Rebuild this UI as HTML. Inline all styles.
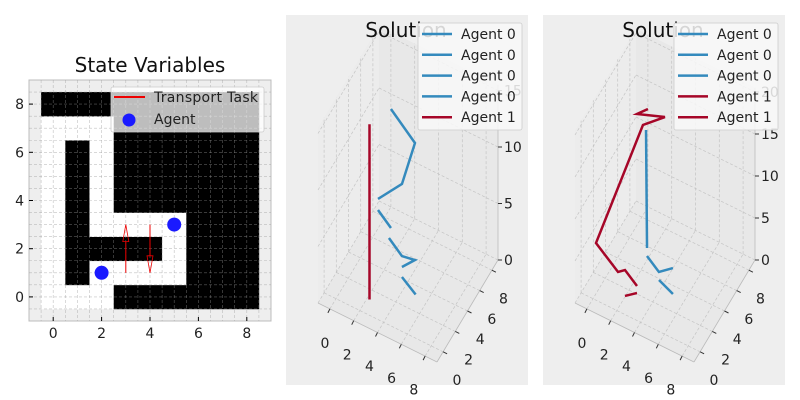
<!DOCTYPE html>
<html><head><meta charset="utf-8"><style>
body{margin:0;background:#fff;}
svg{display:block;font-family:"DejaVu Sans","Liberation Sans",sans-serif;}
</style></head><body>
<svg id="fig" width="800" height="400" viewBox="0 0 800 400">
<rect x="0" y="0" width="800" height="400" fill="#ffffff"/>
<g id="left"></g>
<g id="p2"></g>
<g id="p3"></g>
</svg>
<script>
// ---------- data ----------
const gridRows = [ // row 0 .. row 8, col 0..8 ; 1 = wall (black)
 [0,0,0,1,1,1,1,1,1],
 [0,1,0,0,0,0,1,1,1],
 [0,1,1,1,1,0,1,1,1],
 [0,1,0,0,0,0,1,1,1],
 [0,1,0,1,1,1,1,1,1],
 [0,1,0,1,1,1,1,1,1],
 [0,1,0,1,1,1,1,1,1],
 [0,0,0,1,1,1,1,1,1],
 [1,1,1,1,1,1,1,1,1]
];
const agentX = [2,5];
const agentY = [1,3];
const taskX0 = [3,4];
const taskY0 = [1,3];
const taskX1 = [3,4];
const taskY1 = [3,1];
const mapTicks = [0,2,4,6,8];

// panel 2 series: [x,y,t]
const p2Series0a = [[5,3.3,0],[3.87,3.26,1]];
const p2Series0b = [[3.92,3.16,2],[4.93,3.32,3],[4.37,2.28,4],[3.27,2.3,5]];
const p2Series0c = [[3.45,2.28,6],[2.35,2.3,7]];
const p2Series0d = [[2.36,2.28,8],[3.77,3.46,9],[4.34,4.48,12],[2.34,4.44,14]];
const p2Series1 = [[2.2,1.2,0],[2.2,1.2,15.5]];
// panel 3 series
const p3Series0a = [[5,3.35,0],[3.88,3.25,1]];
const p3Series0b = [[4.97,3.41,3],[4.54,1.95,4],[3.47,2.08,5]];
const p3Series0c = [[3.49,2.05,6],[3.41,2.04,20]];
const p3Series1a = [[2.63,2.08,0],[2.29,0.77,1]];
const p3Series1b = [[3.01,1.34,2],[1.94,1.46,3],[1.89,0.42,4],[-0.01,0.51,6],[2.04,4.21,17],[3.48,5.0,18],[1.88,3.55,19],[2.72,3.7,20]];
const xyTicks = [0,2,4,6,8];
const zTicks2 = [0,5,10,15];
const zTicks3 = [0,5,10,15,20];

const BLUE="#348ABD", RED="#A60628";
const FS=14, TFS=20;
const NS="http://www.w3.org/2000/svg";
function mk(parent,tag,attrs,text){const e=document.createElementNS(NS,tag);for(const k in attrs)e.setAttribute(k,attrs[k]);if(text!==undefined)e.textContent=text;parent.appendChild(e);return e;}

// ---------- left panel ----------
const L=document.getElementById('left');
const X=v=>29+(v+1)*24.2, Y=v=>321-(v+1)*24.1;
mk(L,'rect',{x:X(-1),y:Y(9),width:X(9)-X(-1),height:Y(-1)-Y(9),fill:'#eeeeee',stroke:'#bcbcbc','stroke-width':1});
for(let r=0;r<9;r++)for(let c=0;c<9;c++){
  const cell=mk(L,'rect',{x:X(c-0.5),y:Y(r+0.5),width:X(c+0.5)-X(c-0.5)+0.3,height:Y(r-0.5)-Y(r+0.5)+0.3,fill:gridRows[r][c]?'#000':'#fff'});
  
  
}
for(let v=-0.5;v<=8.5;v+=0.5){
  mk(L,'line',{x1:X(v),x2:X(v),y1:Y(9),y2:Y(-1),stroke:'#999','stroke-width':0.6,'stroke-dasharray':'3,2',opacity:0.6});
  mk(L,'line',{y1:Y(v),y2:Y(v),x1:X(-1),x2:X(9),stroke:'#999','stroke-width':0.6,'stroke-dasharray':'3,2',opacity:0.6});
}
mapTicks.forEach(t=>{
  mk(L,'line',{x1:X(t),x2:X(t),y1:Y(-1),y2:Y(-1)-4,stroke:'#000'});
  mk(L,'line',{x1:X(-1),x2:X(-1)+4,y1:Y(t),y2:Y(t),stroke:'#000'});
  const xl=mk(L,'text',{x:X(t),y:338,'font-size':FS,'text-anchor':'middle',fill:'#222'},String(t));
  
  
  const yl=mk(L,'text',{x:24,y:Y(t)+5,'font-size':FS,'text-anchor':'end',fill:'#222'},String(t));
  
  
});
for(let i=0;i<taskX0.length;i++){
  const x0=X(taskX0[i]),y0=Y(taskY0[i]),x1=X(taskX1[i]),y1=Y(taskY1[i]);
  const dir=y1<y0?-1:1;
  const base=y1-dir*17;
  const ar=mk(L,'g',{});
  
  
  mk(ar,'line',{x1:x0,y1:y0,x2:x0,y2:base,stroke:'#e00','stroke-width':1});
  mk(ar,'polygon',{points:`${x0-3},${base} ${x0},${y1} ${x0+3},${base}`,fill:'none',stroke:'#e00','stroke-width':0.8});
}
for(let i=0;i<agentX.length;i++){
  const a=mk(L,'circle',{cx:X(agentX[i]),cy:Y(agentY[i]),r:7,fill:'#1a1aff'});
  
  
}
const lg=mk(L,'g',{});


mk(lg,'rect',{x:111,y:87,width:153,height:45,fill:'rgba(255,255,255,0.74)',stroke:'#ccc','stroke-width':0.8,rx:2});
mk(lg,'line',{x1:114,x2:145,y1:97,y2:97,stroke:'#e00','stroke-width':2});
mk(lg,'text',{x:154,y:102,'font-size':FS,fill:'#222',textLength:104},'Transport Task');
mk(lg,'circle',{cx:129,cy:120,r:6.5,fill:'#1a1aff'});
mk(lg,'text',{x:154,y:124,'font-size':FS,fill:'#222'},'Agent');
const t1=mk(L,'text',{x:150,y:72,'font-size':TFS,'text-anchor':'middle',fill:'#111'},'State Variables');



// ---------- 3D panels ----------
function panel(g,ox,ez,zmax,zTicks,seriesList,legend,lgx){
  mk(g,'rect',{x:ox-32,y:15,width:242,height:370,fill:'#eeeeee'});
  const O=[ox,303], ex=[11.9,5.9], ey=[6.1,-10.2];
  const P=(x,y,z)=>[O[0]+(x+1)*ex[0]+(y+1)*ey[0], O[1]+(x+1)*ex[1]+(y+1)*ey[1]-z*ez];
  const xmin=-1,xmax=9,ymin=-1,ymax=9;
  const pts=a=>a.map(p=>p.join(',')).join(' ');
  mk(g,'polygon',{points:pts([P(xmin,ymin,0),P(xmax,ymin,0),P(xmax,ymax,0),P(xmin,ymax,0)]),fill:'#e8e8e8'});
  mk(g,'polygon',{points:pts([P(xmin,ymin,0),P(xmin,ymax,0),P(xmin,ymax,zmax),P(xmin,ymin,zmax)]),fill:'#ececec'});
  mk(g,'polygon',{points:pts([P(xmin,ymax,0),P(xmax,ymax,0),P(xmax,ymax,zmax),P(xmin,ymax,zmax)]),fill:'#e8e8e8'});
  const gl=(a,b)=>mk(g,'line',{x1:a[0],y1:a[1],x2:b[0],y2:b[1],stroke:'#c4c4c4','stroke-width':0.7,'stroke-dasharray':'3,2'});
  xyTicks.forEach(t=>{
    gl(P(t,ymin,0),P(t,ymax,0)); gl(P(t,ymax,0),P(t,ymax,zmax));
    gl(P(xmin,t,0),P(xmax,t,0)); gl(P(xmin,t,0),P(xmin,t,zmax));
  });
  zTicks.forEach(t=>{gl(P(xmin,ymin,t),P(xmin,ymax,t)); gl(P(xmin,ymax,t),P(xmax,ymax,t));});
  const ax=(a,b)=>mk(g,'line',{x1:a[0],y1:a[1],x2:b[0],y2:b[1],stroke:'#bbb','stroke-width':0.8});
  ax(P(xmin,ymin,0),P(xmax,ymin,0)); ax(P(xmax,ymin,0),P(xmax,ymax,0)); ax(P(xmax,ymax,0),P(xmax,ymax,zmax));
  xyTicks.forEach(t=>{
    const a=P(t,ymin,0); mk(g,'line',{x1:a[0],y1:a[1],x2:a[0]-2,y2:a[1]+4,stroke:'#333'});
    const b=P(xmax,t,0); mk(g,'line',{x1:b[0],y1:b[1],x2:b[0]+4,y2:b[1]+2,stroke:'#333'});
    const xl=mk(g,'text',{x:ox+7+t*11.1,y:348+t*5.8,'font-size':FS,'text-anchor':'middle',fill:'#222'},String(t));
    
    
    const yl=mk(g,'text',{x:ox+139+t*5.8,y:385-t*10.2,'font-size':FS,'text-anchor':'middle',fill:'#222'},String(t));
    
    
  });
  zTicks.forEach(t=>{
    const c=P(xmax,ymax,t); mk(g,'line',{x1:c[0],y1:c[1],x2:c[0]+4,y2:c[1],stroke:'#333'});
    const zl=mk(g,'text',{x:c[0]+6,y:c[1]+5,'font-size':FS,fill:'#222'},String(t));
    
    
  });
  seriesList.forEach(s=>{
    const l=mk(g,'polyline',{points:pts(s.data.map(p=>P(p[0],p[1],p[2]))),fill:'none',stroke:s.color,'stroke-width':2.5,'stroke-linejoin':'miter'});
    
    
  });
  const tt=mk(g,'text',{x:ox+88,y:37,'font-size':TFS,'text-anchor':'middle',fill:'#111'},'Solution');
  
  
  const lgg=mk(g,'g',{});
  
  
  mk(lgg,'rect',{x:lgx,y:23,width:104,height:107,fill:'rgba(248,248,248,0.85)',stroke:'#ccc','stroke-width':0.8,rx:2});
  legend.forEach((e,i)=>{
    const y=34+i*20.8;
    mk(lgg,'line',{x1:lgx+4,x2:lgx+34,y1:y,y2:y,stroke:e.color,'stroke-width':2.5});
    mk(lgg,'text',{x:lgx+43,y:y+5,'font-size':FS,fill:'#222'},e.label);
  });
}
panel(document.getElementById('p2'),318,11.3,15.5,zTicks2,
 [{data:p2Series0a,color:BLUE},{data:p2Series0b,color:BLUE},{data:p2Series0c,color:BLUE},{data:p2Series0d,color:BLUE},{data:p2Series1,color:RED}],
 [{label:'Agent 0',color:BLUE},{label:'Agent 0',color:BLUE},{label:'Agent 0',color:BLUE},{label:'Agent 0',color:BLUE},{label:'Agent 1',color:RED}],418);
panel(document.getElementById('p3'),575,8.4,20.5,zTicks3,
 [{data:p3Series0a,color:BLUE},{data:p3Series0b,color:BLUE},{data:p3Series0c,color:BLUE},{data:p3Series1a,color:RED},{data:p3Series1b,color:RED}],
 [{label:'Agent 0',color:BLUE},{label:'Agent 0',color:BLUE},{label:'Agent 0',color:BLUE},{label:'Agent 1',color:RED},{label:'Agent 1',color:RED}],674);
</script>
</body></html>
